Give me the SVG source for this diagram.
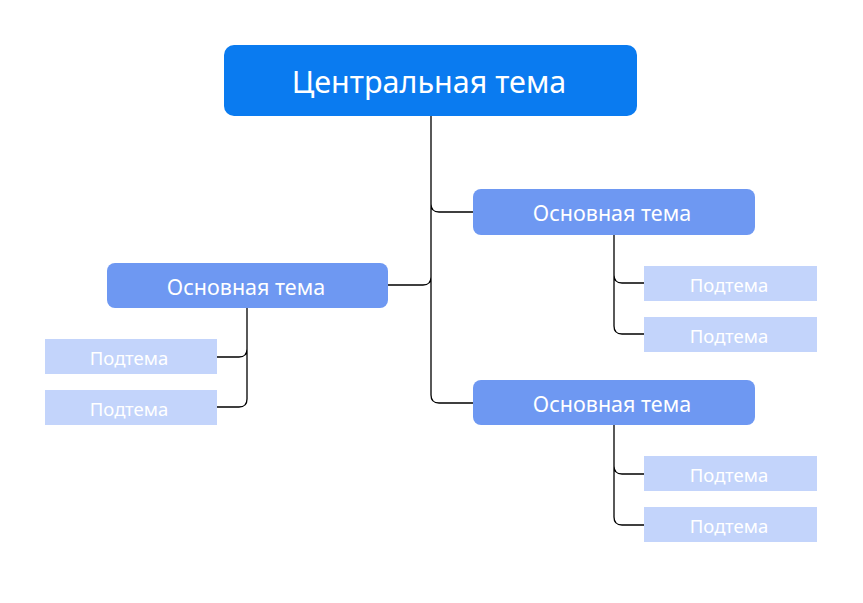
<svg xmlns="http://www.w3.org/2000/svg" width="863" height="603" viewBox="0 0 863 603">
<style>
.c{fill:#0a7bf0}.m{fill:#6e98f2}.s{fill:#c3d4fb}
text{font-family:"Noto Sans","Open Sans",sans-serif;fill:#fff;text-anchor:middle;dominant-baseline:central}
.l{fill:none;stroke:#000;stroke-width:1.3}
</style>
<rect width="863" height="603" fill="#fff"/>
<g id="connectors" class="l">
<path d="M431 116V395q0 8 8 8H473M431 204q0 8 8 8H473M431 277q0 8 -8 8H388"/>
<path d="M247 308V399q0 8 -8 8H217M247 349q0 8 -8 8H217"/>
<path d="M614 235V326q0 8 8 8H644M614 275q0 8 8 8H644"/>
<path d="M614 425V517q0 8 8 8H644M614 466q0 8 8 8H644"/>
</g>
<g id="central"><rect class="c" x="224" y="45" width="413" height="71" rx="10"/><text x="429" y="81" font-size="30.5">Центральная тема</text></g>
<g id="main1"><rect class="m" x="473" y="189" width="282" height="46" rx="8"/><text x="612" y="212" font-size="21.5">Основная тема</text></g>
<g id="main2"><rect class="m" x="107" y="263" width="281" height="45" rx="8"/><text x="246" y="286" font-size="21.5">Основная тема</text></g>
<g id="main3"><rect class="m" x="473" y="380" width="282" height="45" rx="8"/><text x="612" y="403" font-size="21.5">Основная тема</text></g>
<g id="sub1"><rect class="s" x="644" y="266" width="173" height="35"/><text x="729" y="284" font-size="18.5">Подтема</text></g>
<g id="sub2"><rect class="s" x="644" y="317" width="173" height="35"/><text x="729" y="335" font-size="18.5">Подтема</text></g>
<g id="sub3"><rect class="s" x="45" y="339" width="172" height="35"/><text x="129" y="357" font-size="18.5">Подтема</text></g>
<g id="sub4"><rect class="s" x="45" y="390" width="172" height="35"/><text x="129" y="408" font-size="18.5">Подтема</text></g>
<g id="sub5"><rect class="s" x="644" y="456" width="173" height="35"/><text x="729" y="474" font-size="18.5">Подтема</text></g>
<g id="sub6"><rect class="s" x="644" y="507" width="173" height="35"/><text x="729" y="525" font-size="18.5">Подтема</text></g>
</svg>
